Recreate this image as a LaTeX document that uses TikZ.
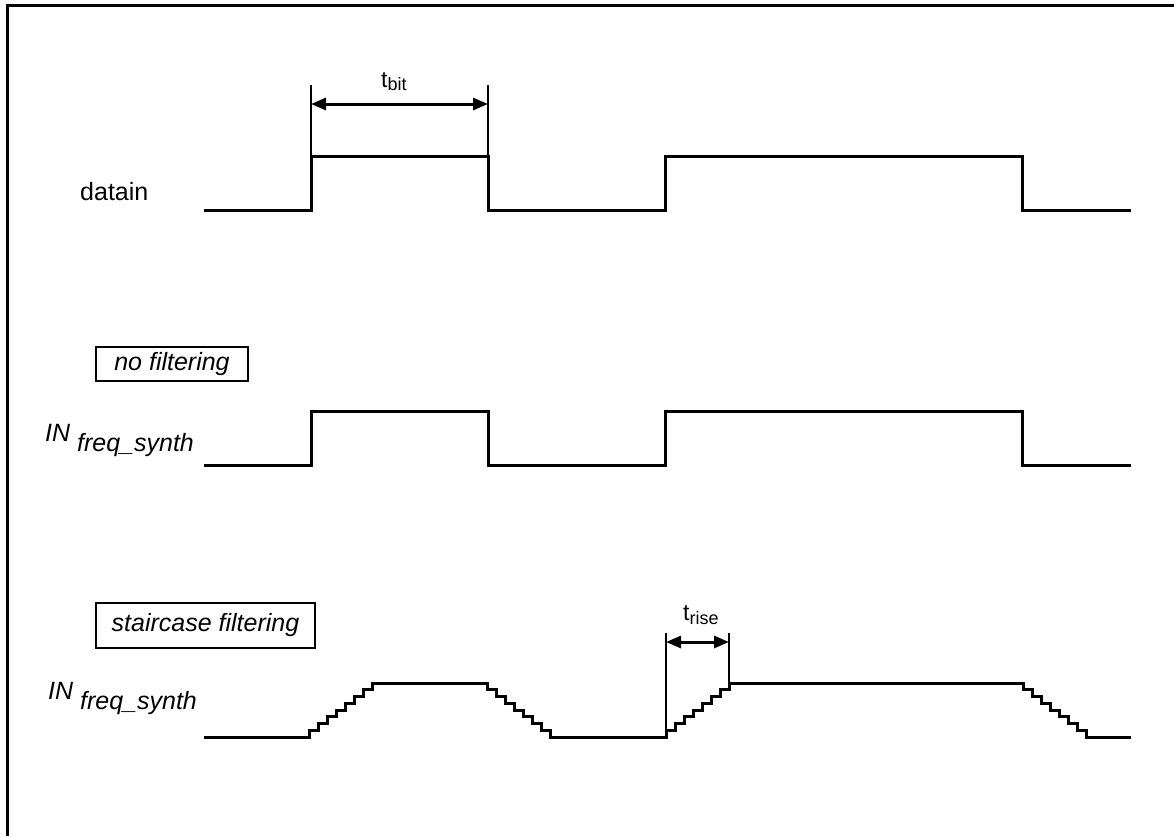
\documentclass[tikz,border=0pt]{standalone}
\usepackage{fontspec}
\setmainfont{Liberation Sans}
\usetikzlibrary{arrows.meta}
\begin{document}
\begin{tikzpicture}[x=1pt,y=-1pt,
  wave/.style={line width=3pt, line join=miter},
  thinline/.style={line width=1.5pt},
  dimarrow/.style={line width=3pt, {Triangle[length=15pt,width=12pt]}-{Triangle[length=15pt,width=12pt]}},
  lab/.style={font=\fontsize{25}{29}\selectfont, inner sep=0pt},
  sublab/.style={font=\fontsize{23}{26}\selectfont, inner sep=0pt},
  tag/.style={draw, line width=2.2pt, font=\fontsize{25}{29}\selectfont\itshape, inner sep=0pt}]
\useasboundingbox (0,0) rectangle (1174,836);
\draw[line width=3pt] (7,836) -- (7,5) -- (1174,5);

% datain
\node[lab, anchor=base west] (datain) at (80,200) {datain};
\draw[wave] (204,210) -- (311,210) -- (311,156) -- (488,156) -- (488,210) -- (665,210) -- (665,156) -- (1022,156) -- (1022,210) -- (1131,210);

% t_bit
\coordinate (bittop1) at (311,85);
\coordinate (bitbot1) at (311,156);
\coordinate (bittop2) at (488,85);
\coordinate (bitbot2) at (488,156);
\draw[thinline] (bittop1) -- (bitbot1);
\draw[thinline] (bittop2) -- (bitbot2);
\coordinate (bitl) at (311,104);
\coordinate (bitr) at (488,104);
\draw[dimarrow] (bitl) -- (bitr);
\node[sublab, anchor=base west] (tbit) at (381,87) {t\raisebox{-3pt}{\fontsize{18}{18}\selectfont bit}};

% no filtering
\node[tag, minimum width=152pt, minimum height=34pt] (nofilt) at (172,364) {no filtering};
\node[lab, anchor=base west, font=\fontsize{25}{29}\selectfont\itshape] (in1) at (45,451) {\raisebox{10pt}{IN} freq\_synth};
\draw[wave] (204,465) -- (311,465) -- (311,411) -- (488,411) -- (488,465) -- (665,465) -- (665,411) -- (1022,411) -- (1022,465) -- (1131,465);

% staircase filtering
\node[tag, minimum width=219pt, minimum height=45pt] (stairfilt) at (205.5,625.5) {staircase filtering};
\node[lab, anchor=base west, font=\fontsize{25}{29}\selectfont\itshape] (in2) at (48,709) {\raisebox{10pt}{IN} freq\_synth};
\draw[wave] (204,737) -- (309,737)
  \foreach \k in {1,...,7}{ -- ++(0,-6.75) -- ++(9,0)} -- ++(0,-6.75)
  -- (487,683)
  \foreach \k in {1,...,7}{ -- ++(0,6.75) -- ++(9,0)} -- ++(0,6.75)
  -- (666,737)
  \foreach \k in {1,...,7}{ -- ++(0,-6.75) -- ++(9,0)} -- ++(0,-6.75)
  -- (1023,683)
  \foreach \k in {1,...,7}{ -- ++(0,6.75) -- ++(9,0)} -- ++(0,6.75)
  -- (1131,737);

% t_rise
\coordinate (risetop1) at (666,633);
\coordinate (risebot1) at (666,737);
\coordinate (risetop2) at (729,633);
\coordinate (risebot2) at (729,683);
\draw[thinline] (risetop1) -- (risebot1);
\draw[thinline] (risetop2) -- (risebot2);
\coordinate (risel) at (666,642);
\coordinate (riser) at (729,642);
\draw[dimarrow] (risel) -- (riser);
\node[sublab, anchor=base west] (trise) at (683,620) {t\raisebox{-4pt}{\fontsize{18}{18}\selectfont rise}};
\end{tikzpicture}
\end{document}
